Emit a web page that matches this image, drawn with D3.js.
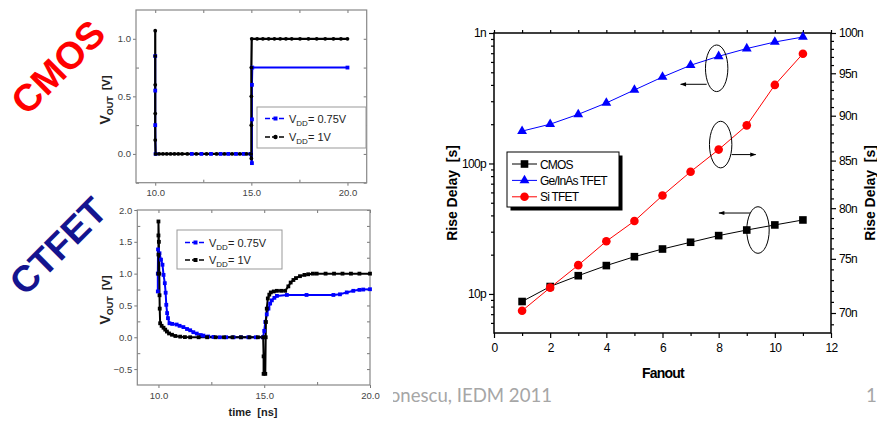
<!DOCTYPE html>
<html>
<head>
<meta charset="utf-8">
<script src="https://cdn.jsdelivr.net/npm/d3@7"></script>
<style>
  body { margin: 0; background: #fff; }
  svg { display: block; font-family: "Liberation Sans", Arial, sans-serif; }
</style>
</head>
<body>
<svg width="877" height="421"></svg>
<script>
// ---- right chart data: rise delay vs fanout ----
const fanout = [1, 2, 3, 4, 5, 6, 7, 8, 9, 10, 11];
const cmosDelay = [8.75, 11.4, 13.8, 16.5, 19.3, 22.1, 24.9, 28.0, 30.9, 33.8, 36.9];          // ps, left axis
const geinasDelay = [177, 200, 238, 291, 366, 460, 566, 663, 760, 853, 932];                  // ps, left axis
const siDelay = [70.2, 72.3, 74.4, 76.7, 78.7, 81.3, 83.8, 86.2, 88.9, 93.6, 97.4];           // ns, right axis
const seriesNames = ['CMOS', 'Ge/InAs TFET', 'Si TFET'];

const xTicks = [0, 2, 4, 6, 8, 10, 12];
const leftTickVals = [1e-11, 1e-10, 1e-9];
const leftTickLabels = ['10p', '100p', '1n'];
const rightTickVals = [70e-9, 75e-9, 80e-9, 85e-9, 90e-9, 95e-9, 100e-9];
const rightTickLabels = ['70n', '75n', '80n', '85n', '90n', '95n', '100n'];

// ---- left panels: transient output voltage (time in ns, volts) ----
const cmosHi = [[10.0, 1.07], [10.0, 0.85], [10.0, 0.6], [10.0, 0.35], [10.0, 0.12], [10.02, 0], [10.2, 0], [10.4, 0],
  [10.6, 0], [10.8, 0], [11.0, 0], [11.2, 0], [11.4, 0], [11.67, 0], [12.14, 0], [12.67, 0], [13.19, 0], [13.6, 0],
  [14.0, 0], [14.4, 0], [14.75, 0], [14.98, 0], [15.0, -0.04], [15.0, 0.25], [15.0, 0.5], [15.0, 0.75], [15.02, 1.0],
  [15.3, 1.0], [15.6, 1.0], [15.9, 1.0], [16.2, 1.0], [16.5, 1.0], [16.8, 1.0], [17.1, 1.0], [17.53, 1.0], [17.97, 1.0],
  [18.4, 1.0], [18.84, 1.0], [19.27, 1.0], [19.66, 1.0], [20.0, 1.0]];
const cmosLo = [[10.0, 0.85], [10.0, 0.55], [10.0, 0.25], [10.02, 0], [11.9, 0], [12.4, 0], [12.9, 0], [13.4, 0],
  [13.8, 0], [14.2, 0], [14.6, 0], [14.95, 0], [15.03, -0.08], [15.03, 0.3], [15.03, 0.6], [15.05, 0.75], [20.0, 0.75]];

const ctfetHi = [[10.0, 1.0], [10.0, 1.3], [10.0, 1.6], [10.0, 1.82], [10.02, 1.5], [10.04, 1.0], [10.05, 0.66],
  [10.06, 0.45], [10.08, 0.22], [10.15, 0.18], [10.24, 0.15], [10.32, 0.12], [10.4, 0.09], [10.5, 0.06], [10.64, 0.04],
  [10.8, 0.02], [11.03, 0.01], [11.25, 0.003], [11.5, 0], [11.9, 0], [12.3, 0], [12.7, 0], [13.1, 0], [13.5, 0],
  [13.9, 0], [14.3, 0], [14.7, 0], [14.95, 0], [14.97, -0.3], [14.97, -0.575], [15.05, -0.575], [15.07, 0.0],
  [15.08, 0.24], [15.12, 0.45], [15.17, 0.61], [15.24, 0.67], [15.31, 0.705], [15.45, 0.72], [15.6, 0.73], [15.8, 0.73],
  [15.99, 0.73], [16.14, 0.8], [16.25, 0.86], [16.38, 0.9], [16.5, 0.93], [16.69, 0.96], [16.9, 0.98], [17.08, 0.99],
  [17.3, 1.0], [17.48, 1.0], [17.9, 1.0], [18.3, 1.0], [18.7, 1.0], [19.1, 1.0], [19.5, 1.0], [20.0, 1.0]];
const ctfetLo = [[9.97, 0.72], [9.97, 1.0], [9.98, 1.38], [10.05, 1.32], [10.12, 1.22], [10.19, 1.14], [10.24, 0.98],
  [10.3, 0.85], [10.34, 0.7], [10.37, 0.51], [10.41, 0.38], [10.45, 0.3], [10.52, 0.22], [10.65, 0.21], [10.86, 0.2],
  [11.0, 0.18], [11.18, 0.16], [11.35, 0.13], [11.5, 0.11], [11.65, 0.08], [11.81, 0.058], [12.0, 0.035], [12.13, 0.026],
  [12.35, 0.012], [12.6, 0.005], [12.9, 0], [13.2, 0], [13.55, 0], [13.9, 0], [14.25, 0], [14.6, 0], [14.94, 0],
  [15.0, 0.1], [15.05, 0.24], [15.12, 0.36], [15.2, 0.45], [15.28, 0.53], [15.36, 0.58], [15.48, 0.62], [15.6, 0.65],
  [16.07, 0.665], [17.0, 0.665], [18.27, 0.665], [18.58, 0.675], [18.9, 0.705], [19.21, 0.73], [19.5, 0.745],
  [19.68, 0.75], [20.0, 0.755]];

const svg = d3.select('svg');
svg.append('rect').attr('width', 877).attr('height', 421).attr('fill', '#fff');

// footer text, partly hidden behind the lower panel like in the slide
svg.append('text').attr('x', 552).attr('y', 402).attr('text-anchor', 'end')
  .attr('font-family', 'Lato, "Open Sans", sans-serif').attr('font-size', 18.6).attr('fill', '#a6a6a6')
  .text('Ionescu, IEDM 2011');
svg.append('text').attr('x', 866).attr('y', 402)
  .attr('font-family', 'Lato, "Open Sans", sans-serif').attr('font-size', 18.6).attr('fill', '#a6a6a6')
  .text('1');

function vddLabel(sel, val) {
  sel.append('tspan').text('V');
  sel.append('tspan').attr('font-size', 8).attr('dy', 3).text('DD');
  sel.append('tspan').attr('dy', -3).text('= ' + val);
}

function drawPanel(cfg) {
  const g = svg.append('g');
  if (cfg.bg) g.append('rect').attr('x', cfg.bg[0]).attr('y', cfg.bg[1]).attr('width', cfg.bg[2]).attr('height', cfg.bg[3]).attr('fill', '#fff');
  const x = d3.scaleLinear().domain(cfg.xDomain).range(cfg.xRange);
  const y = d3.scaleLinear().domain(cfg.yDomain).range(cfg.yRange);
  const [xl, xr] = cfg.xRange, [yb, yt] = cfg.yRange;

  const tickStyle = s => {
    s.select('.domain').remove();
    s.selectAll('line').attr('stroke', '#777');
    s.selectAll('text').attr('font-size', 9.5).attr('fill', '#444').attr('font-family', '"Liberation Sans", Arial, sans-serif');
  };
  g.append('g').attr('transform', `translate(0,${yb})`)
    .call(d3.axisBottom(x).tickValues(cfg.xMajor).tickFormat(d3.format('.1f')).tickSize(3).tickPadding(4)).call(tickStyle);
  g.append('g').attr('transform', `translate(0,${yb})`)
    .call(d3.axisTop(x).tickValues(cfg.xMinor).tickFormat('').tickSize(3)).call(tickStyle);
  g.append('g').attr('transform', `translate(0,${yt})`)
    .call(d3.axisBottom(x).tickValues(cfg.xMajor.concat(cfg.xMinor)).tickFormat('').tickSize(3)).call(tickStyle);
  g.append('g').attr('transform', `translate(${xl},0)`)
    .call(d3.axisLeft(y).tickValues(cfg.yMajor).tickFormat(d3.format('.1f')).tickSize(3).tickPadding(2)).call(tickStyle);
  g.append('g').attr('transform', `translate(${xl},0)`)
    .call(d3.axisRight(y).tickValues(cfg.yMinor).tickFormat('').tickSize(3)).call(tickStyle);
  g.append('g').attr('transform', `translate(${xr},0)`)
    .call(d3.axisLeft(y).tickValues(cfg.yMajor.concat(cfg.yMinor)).tickFormat('').tickSize(3)).call(tickStyle);

  g.append('rect').attr('x', xl).attr('y', yt).attr('width', xr - xl).attr('height', yb - yt)
    .attr('fill', 'none').attr('stroke', '#888').attr('stroke-width', 1.2);

  const line = d3.line().x(d => x(d[0])).y(d => y(d[1]));
  // lines first (in draw order), then markers so the under-series dots still show
  cfg.series.forEach(s => {
    g.append('path').datum(s.data).attr('d', line).attr('fill', 'none')
      .attr('stroke', s.color).attr('stroke-width', s.width);
  });
  cfg.series.forEach(s => {
    const m = g.append('g').attr('fill', s.color);
    if (s.shape === 'square') {
      m.selectAll('rect').data(s.data).join('rect')
        .attr('x', d => x(d[0]) - 1.9).attr('y', d => y(d[1]) - 1.9).attr('width', 3.8).attr('height', 3.8);
    } else {
      m.selectAll('circle').data(s.data).join('circle')
        .attr('cx', d => x(d[0])).attr('cy', d => y(d[1])).attr('r', 1.9);
    }
  });

  // legend
  const [lx, ly, lw, lh] = cfg.legend;
  const lg = g.append('g');
  lg.append('rect').attr('x', lx).attr('y', ly).attr('width', lw).attr('height', lh)
    .attr('fill', '#fff').attr('stroke', '#999');
  cfg.legendOrder.forEach((k, i) => {
    const s = cfg.series[k];
    const yy = ly + cfg.legendRows[i];
    lg.append('line').attr('x1', lx + 8).attr('x2', lx + 29).attr('y1', yy).attr('y2', yy)
      .attr('stroke', s.color).attr('stroke-width', 1.3).attr('stroke-dasharray', '5,2');
    if (s.legendShape === 'square') {
      lg.append('rect').attr('x', lx + 16.5).attr('y', yy - 2).attr('width', 4).attr('height', 4).attr('fill', s.color);
    } else {
      lg.append('circle').attr('cx', lx + 18.5).attr('cy', yy).attr('r', 2.2).attr('fill', s.color);
    }
    lg.append('text').attr('x', lx + 32).attr('y', yy + 4).attr('font-size', 11).attr('fill', '#222')
      .call(t => vddLabel(t, s.label));
  });

  // y title
  const yl = g.append('text').attr('transform', `translate(${cfg.yTitle[0]},${cfg.yTitle[1]}) rotate(-90)`)
    .attr('text-anchor', 'middle').attr('font-weight', 'bold').attr('fill', '#222');
  yl.append('tspan').attr('font-size', 14).text('V');
  yl.append('tspan').attr('font-size', 9).attr('dy', 3).text('OUT');
  yl.append('tspan').attr('font-size', 11).attr('dy', -3).text('\u00a0 [V]');

  if (cfg.xTitle) {
    g.append('text').attr('x', cfg.xTitle[0]).attr('y', cfg.xTitle[1]).attr('text-anchor', 'middle')
      .attr('font-weight', 'bold').attr('font-size', 11).attr('fill', '#222').text('time\u00a0 [ns]');
  }
}

drawPanel({
  xDomain: [9, 21], xRange: [136, 366.7], yDomain: [-0.25, 1.25], yRange: [182.7, 10],
  xMajor: [10, 15, 20], xMinor: [12.5, 17.5], yMajor: [0, 0.5, 1.0], yMinor: [-0.25, 0.25, 0.75],
  series: [
    { data: cmosLo, color: '#0000ff', width: 2, shape: 'square', legendShape: 'square', label: '0.75V' },
    { data: cmosHi, color: '#000', width: 2.2, shape: 'circle', legendShape: 'circle', label: '1V' }
  ],
  legendOrder: [0, 1],
  legend: [257, 107, 109, 41], legendRows: [11.5, 30],
  yTitle: [110, 100]
});

drawPanel({
  bg: [200, 380, 193, 41],
  xDomain: [9, 20], xRange: [137.3, 370], yDomain: [-0.75, 2.0], yRange: [385, 210],
  xMajor: [10, 15, 20], xMinor: [12.5, 17.5], yMajor: [-0.5, 0, 0.5, 1.0, 1.5, 2.0], yMinor: [-0.25, 0.25, 0.75, 1.25, 1.75],
  series: [
    { data: ctfetLo, color: '#0000ff', width: 2, shape: 'square', legendShape: 'square', label: '0.75V' },
    { data: ctfetHi, color: '#000', width: 2, shape: 'square', legendShape: 'square', label: '1V' }
  ],
  legendOrder: [0, 1],
  legend: [177, 230, 105, 39], legendRows: [12.5, 30],
  yTitle: [110, 300], xTitle: [253, 416]
});

// big rotated titles
svg.append('text').attr('transform', 'translate(58,67) rotate(-45)').attr('text-anchor', 'middle').attr('dy', '0.35em')
  .attr('font-weight', 'bold').attr('font-size', 38).attr('fill', '#ff0000').text('CMOS');
svg.append('text').attr('transform', 'translate(58,246) rotate(-45)').attr('text-anchor', 'middle').attr('dy', '0.35em')
  .attr('font-weight', 'bold').attr('font-size', 37).attr('fill', '#14148f').text('CTFET');

// ---- right chart ----
const x = d3.scaleLinear().domain([0, 12]).range([494, 831]);
const yL = d3.scaleLog().domain([5.02e-12, 1e-9]).range([333, 33]);
const yR = d3.scaleLog().domain([68.24e-9, 100e-9]).range([333, 33]);
const rc = svg.append('g');

const axStyle = s => {
  s.select('.domain').remove();
  s.selectAll('line').attr('stroke', '#000').attr('stroke-width', 1.2);
  s.selectAll('text').attr('font-size', 12).attr('fill', '#000').attr('letter-spacing', '-0.7px')
    .attr('font-family', '"Liberation Sans", Arial, sans-serif');
};
const allInts = d3.range(0, 13);
rc.append('g').attr('transform', 'translate(0,333)')
  .call(d3.axisBottom(x).tickValues(xTicks).tickFormat(d3.format('d')).tickSize(5).tickPadding(5)).call(axStyle);
rc.append('g').attr('transform', 'translate(0,333)')
  .call(d3.axisBottom(x).tickValues(allInts.filter(d => d % 2)).tickFormat('').tickSize(3)).call(axStyle);
rc.append('g').attr('transform', 'translate(0,33)')
  .call(d3.axisTop(x).tickValues(allInts).tickFormat('').tickSize(3)).call(axStyle);

const leftMinor = [6e-12, 7e-12, 8e-12, 9e-12];
[1e-11, 1e-10].forEach(dec => [2, 3, 4, 5, 6, 7, 8, 9].forEach(k => leftMinor.push(k * dec)));
rc.append('g').attr('transform', 'translate(494,0)')
  .call(d3.axisLeft(yL).tickValues(leftTickVals).tickFormat((d, i) => leftTickLabels[i]).tickSize(5).tickPadding(3)).call(axStyle);
rc.append('g').attr('transform', 'translate(494,0)')
  .call(d3.axisLeft(yL).tickValues(leftMinor).tickFormat('').tickSize(3)).call(axStyle);

const rightMinor = d3.range(69, 100).filter(v => v % 5).map(v => v * 1e-9);
rc.append('g').attr('transform', 'translate(831,0)')
  .call(d3.axisRight(yR).tickValues(rightTickVals).tickFormat((d, i) => rightTickLabels[i]).tickSize(5).tickPadding(3)).call(axStyle);
rc.append('g').attr('transform', 'translate(831,0)')
  .call(d3.axisRight(yR).tickValues(rightMinor).tickFormat('').tickSize(3)).call(axStyle);

rc.append('rect').attr('x', 494).attr('y', 33).attr('width', 337).attr('height', 300)
  .attr('fill', 'none').attr('stroke', '#000').attr('stroke-width', 1.5);

const series = [
  { name: seriesNames[0], vals: cmosDelay.map(v => v * 1e-12), scale: yL, color: '#000', shape: 'square' },
  { name: seriesNames[1], vals: geinasDelay.map(v => v * 1e-12), scale: yL, color: '#0000ff', shape: 'triangle' },
  { name: seriesNames[2], vals: siDelay.map(v => v * 1e-9), scale: yR, color: '#ff0000', shape: 'circle' }
];

function drawMarker(sel, shape, color) {
  if (shape === 'square') {
    sel.append('rect').attr('x', -3.8).attr('y', -3.8).attr('width', 7.6).attr('height', 7.6).attr('fill', color);
  } else if (shape === 'triangle') {
    sel.append('path').attr('d', d3.symbol(d3.symbolTriangle, 42)()).attr('fill', color);
  } else {
    sel.append('circle').attr('r', 4.3).attr('fill', color);
  }
}

series.forEach(s => {
  const pts = fanout.map((f, i) => [f, s.vals[i]]);
  rc.append('path').datum(pts)
    .attr('d', d3.line().x(d => x(d[0])).y(d => s.scale(d[1])))
    .attr('fill', 'none').attr('stroke', s.color).attr('stroke-width', 1);
  rc.append('g').selectAll('g').data(pts).join('g')
    .attr('transform', d => `translate(${x(d[0])},${s.scale(d[1])})`)
    .each(function () { drawMarker(d3.select(this), s.shape, s.color); });
});

// axis ownership annotations (ellipse around a point, arrow toward its axis)
const defs = svg.append('defs');
defs.append('marker').attr('id', 'arr').attr('viewBox', '0 0 10 10').attr('refX', 9).attr('refY', 5)
  .attr('markerWidth', 7).attr('markerHeight', 6).attr('orient', 'auto-start-reverse')
  .append('path').attr('d', 'M0,1.5L10,5L0,8.5Z').attr('fill', '#000');

const notes = [
  { s: 1, f: 8, dx: -2, dy: 12, ay: 16, from: -10, to: -36 },
  { s: 2, f: 8, dx: 2, dy: -5, ay: 10, from: 11, to: 35 },
  { s: 0, f: 9.4, dx: 0, dy: 0, ay: -17, from: -7.5, to: -39 }
];
notes.forEach(n => {
  const s = series[n.s];
  const i = Math.min(Math.round(n.f), 11) - 1;
  const cx = x(n.f) + n.dx;
  const cy = s.scale(s.vals[i]) + n.dy;
  rc.append('ellipse').attr('cx', cx).attr('cy', cy).attr('rx', 11.2).attr('ry', 23.3)
    .attr('fill', 'none').attr('stroke', '#000').attr('stroke-width', 1);
  rc.append('line').attr('x1', cx + n.from).attr('x2', cx + n.to).attr('y1', cy + n.ay).attr('y2', cy + n.ay)
    .attr('stroke', '#000').attr('stroke-width', 1).attr('marker-end', 'url(#arr)');
});

// legend with drop shadow
const lg = rc.append('g');
lg.append('rect').attr('x', 510.5).attr('y', 155.5).attr('width', 112).attr('height', 55).attr('fill', '#000');
lg.append('rect').attr('x', 507).attr('y', 152).attr('width', 112).attr('height', 55)
  .attr('fill', '#fff').attr('stroke', '#000').attr('stroke-width', 1);
series.forEach((s, i) => {
  const yy = 164 + i * 16.4;
  lg.append('line').attr('x1', 512).attr('x2', 537).attr('y1', yy).attr('y2', yy).attr('stroke', s.color).attr('stroke-width', 1);
  drawMarker(lg.append('g').attr('transform', `translate(524.5,${yy})`), s.shape, s.color);
  lg.append('text').attr('x', 540).attr('y', yy + 4.5).attr('font-size', 12).attr('letter-spacing', '-0.8px')
    .attr('fill', '#000').text(s.name);
});

// axis titles
rc.append('text').attr('transform', 'translate(457,193) rotate(-90)').attr('text-anchor', 'middle')
  .attr('font-weight', 'bold').attr('font-size', 14).text('Rise Delay\u00a0 [s]');
rc.append('text').attr('transform', 'translate(875,193) rotate(-90)').attr('text-anchor', 'middle')
  .attr('font-weight', 'bold').attr('font-size', 14).text('Rise Delay\u00a0 [s]');
rc.append('text').attr('x', 663).attr('y', 378).attr('text-anchor', 'middle')
  .attr('font-weight', 'bold').attr('font-size', 14).attr('letter-spacing', '-0.8px').text('Fanout');
</script>
</body>
</html>
